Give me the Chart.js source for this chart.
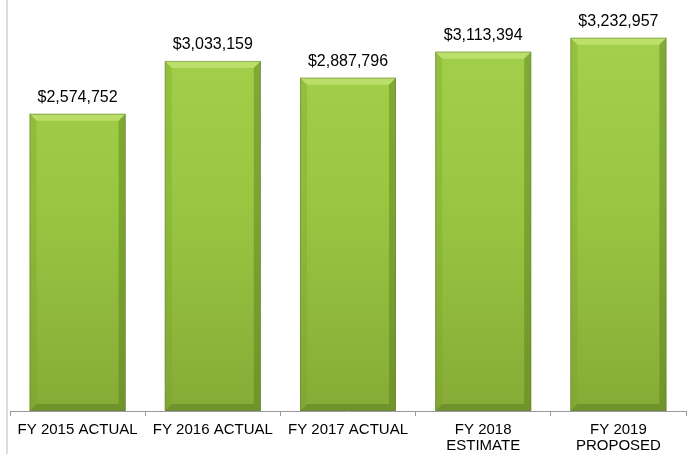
<!DOCTYPE html>
<html>
<head>
<meta charset="utf-8">
<script src="https://cdn.jsdelivr.net/npm/chart.js@4"></script>
<style>
  html, body { margin: 0; padding: 0; background: #fff; }
  #wrap { position: relative; width: 692px; height: 454px; }
  #edge { position: absolute; left: 6px; top: 0; width: 2px; height: 454px; background: #dcdcdc; }
</style>
</head>
<body>
<div id="wrap">
  <div id="edge"></div>
  <canvas id="budget_chart" width="692" height="454"></canvas>
</div>
<script>
  var labels = [
    'FY 2015 ACTUAL',
    'FY 2016 ACTUAL',
    'FY 2017 ACTUAL',
    ['FY 2018', 'ESTIMATE'],
    ['FY 2019', 'PROPOSED']
  ]
  var values = [2574752, 3033159, 2887796, 3113394, 3232957]

  function money(v) {
    return '$' + v.toLocaleString('en-US')
  }

  function barFill(context) {
    var area = context.chart.chartArea
    if (!area) return '#9cc842'
    var g = context.chart.ctx.createLinearGradient(0, area.top, 0, area.bottom)
    g.addColorStop(0, '#a4d24c')
    g.addColorStop(0.5, '#98c641')
    g.addColorStop(1, '#86ab37')
    return g
  }

  // bevel edges + value labels on top of each bar
  var bevelPlugin = {
    id: 'bevel',
    afterDatasetsDraw: function(chart) {
      var ctx = chart.ctx
      var meta = chart.getDatasetMeta(0)
      meta.data.forEach(function(bar, i) {
        var half = bar.width / 2
        var l = bar.x - half, r = bar.x + half
        var t = bar.y, b = bar.base
        var s = 7
        ctx.save()
        // top
        ctx.fillStyle = 'rgba(215,240,140,0.5)'
        ctx.beginPath()
        ctx.moveTo(l, t); ctx.lineTo(r, t); ctx.lineTo(r - s, t + s); ctx.lineTo(l + s, t + s)
        ctx.closePath(); ctx.fill()
        // left
        ctx.fillStyle = 'rgba(120,160,40,0.3)'
        ctx.beginPath()
        ctx.moveTo(l, t); ctx.lineTo(l + s, t + s); ctx.lineTo(l + s, b - s); ctx.lineTo(l, b)
        ctx.closePath(); ctx.fill()
        // right
        ctx.fillStyle = 'rgba(80,115,20,0.4)'
        ctx.beginPath()
        ctx.moveTo(r, t); ctx.lineTo(r - s, t + s); ctx.lineTo(r - s, b - s); ctx.lineTo(r, b)
        ctx.closePath(); ctx.fill()
        // bottom
        ctx.fillStyle = 'rgba(70,100,20,0.35)'
        ctx.beginPath()
        ctx.moveTo(l, b); ctx.lineTo(l + s, b - s); ctx.lineTo(r - s, b - s); ctx.lineTo(r, b)
        ctx.closePath(); ctx.fill()
        // outline
        ctx.strokeStyle = 'rgba(110,130,80,0.55)'
        ctx.lineWidth = 1
        ctx.strokeRect(l + 0.5, t + 0.5, bar.width - 1, b - t - 1)
        // value label
        ctx.fillStyle = '#000'
        ctx.font = '16px "Liberation Sans", Arial, sans-serif'
        ctx.textAlign = 'center'
        ctx.textBaseline = 'bottom'
        ctx.fillText(money(values[i]), bar.x, t - 8)
        ctx.restore()
      })
    }
  }

  var config = {
    type: 'bar',
    data: {
      labels: labels,
      datasets: [{
        data: values,
        backgroundColor: barFill,
        borderWidth: 0,
        categoryPercentage: 0.71,
        barPercentage: 1.0
      }]
    },
    options: {
      responsive: false,
      animation: false,
      layout: { padding: { left: 10, right: 6, top: 7, bottom: 0 } },
      plugins: {
        legend: { display: false },
        tooltip: { enabled: false }
      },
      scales: {
        x: {
          afterFit: function(scale) { scale.height = 43 },
          grid: { drawOnChartArea: false, color: '#9a9a9a', tickLength: 5, offset: true },
          border: { color: '#9a9a9a', width: 1 },
          ticks: {
            color: '#000',
            maxRotation: 0,
            autoSkip: false,
            padding: 6,
            font: { family: '"Liberation Sans", Arial, sans-serif', size: 15, lineHeight: 1.07 }
          }
        },
        y: {
          display: false,
          min: 0,
          max: 3500000
        }
      }
    },
    plugins: [bevelPlugin]
  }

  var ctx = document.getElementById('budget_chart').getContext('2d')
  var myChart = new Chart(ctx, config)
</script>
</body>
</html>
